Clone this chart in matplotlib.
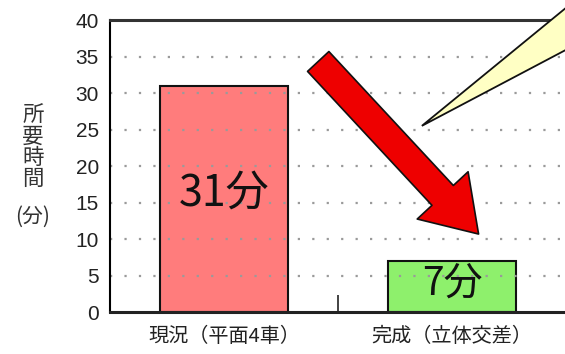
import matplotlib
matplotlib.use("Agg")
import matplotlib.pyplot as plt
from matplotlib.patches import FancyArrowPatch, Polygon

plt.rcParams['font.family'] = ['Noto Sans CJK JP', 'DejaVu Sans']

categories = ['現況（平面4車）', '完成（立体交差）']
minutes = [31, 7]
bar_labels = ['31分', '7分']
bar_colors = ['#FF7C7C', '#8EF06C']
yticks = [0, 5, 10, 15, 20, 25, 30, 35, 40]

fig = plt.figure(figsize=(5.65, 3.54), dpi=100)
ax = fig.add_axes([0.1947, 0.1186, 0.807, 0.8249])

x = range(len(categories))
ax.bar(x, minutes, width=0.56, color=bar_colors, edgecolor='#111111',
       linewidth=1.5, zorder=1)

# labels inside the bars
ax.text(0, 16.2, bar_labels[0], ha='center', va='center', fontsize=31,
        color='#111111', zorder=3)
ax.text(1, 3.9, bar_labels[1], ha='center', va='center', fontsize=28,
        color='#111111', zorder=3)

ax.set_xlim(-0.5, 1.5)
ax.set_ylim(0, 40)
ax.set_yticks(yticks)
ax.set_yticklabels([str(v) for v in yticks], family=['Liberation Sans', 'DejaVu Sans'],
                   fontsize=15, color='#222222')
ax.tick_params(axis='y', length=0, pad=8)

ax.set_xticks(list(x))
ax.set_xticklabels(categories, fontsize=14.5, color='#222222')
ax.tick_params(axis='x', length=0, pad=10)
ax.set_xticks([0.5], minor=True)
ax.tick_params(axis='x', which='minor', direction='in', length=12, width=1.2, color='#222222')

# dotted grid drawn over the bars
for v in yticks[1:-1]:
    ax.axhline(v, color='#9a9a9a', linewidth=1.6, linestyle=(0, (1, 5.5)), zorder=2)

ax.spines['right'].set_visible(False)
ax.spines['top'].set_linewidth(2.2)
ax.spines['top'].set_color('#333333')
ax.spines['left'].set_linewidth(1.5)
ax.spines['bottom'].set_linewidth(2.2)
ax.spines['bottom'].set_color('#222222')

# big red arrow
arrow = FancyArrowPatch((0.405, 34.6), (1.125, 10.4),
                        arrowstyle='simple,head_length=38,head_width=50,tail_width=21',
                        mutation_scale=1, facecolor='#EE0000', edgecolor='#111111',
                        linewidth=1.2, zorder=4)
ax.add_patch(arrow)

# yellow callout wedge
wedge = Polygon([(0.868, 25.5), (1.56, 43.2), (1.56, 36.9)], closed=True,
                facecolor='#FFFFC4', edgecolor='#111111', linewidth=1.3,
                clip_on=False, zorder=5)
ax.add_patch(wedge)

# y axis title (vertical stacked)
fig.text(33 / 565, 1 - 147 / 354, '所\n要\n時\n間', ha='center', va='center',
         fontsize=15.5, color='#333333', linespacing=0.95)
fig.text(33 / 565, 1 - 217 / 354, '(分)', ha='center', va='center',
         fontsize=15, color='#333333')

fig.savefig('out.png', dpi=100)
